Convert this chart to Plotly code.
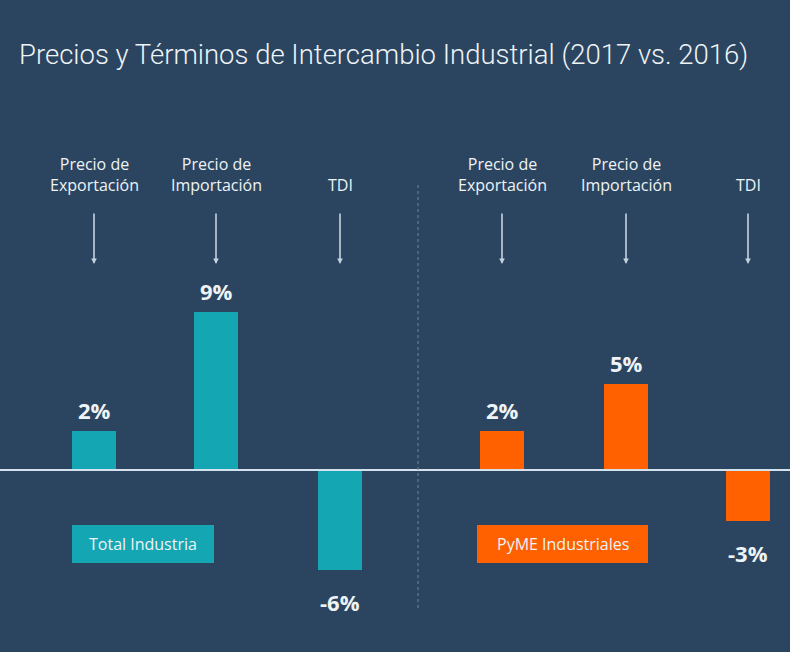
import plotly.graph_objects as go

# ---- data ----
groups = ["Total Industria", "PyME Industriales"]
categories = ["Precio de<br>Exportación", "Precio de<br>Importación", "TDI"]
total_industria = [2.2, 9.0, -5.7]
pyme_industriales = [2.2, 4.9, -2.9]
title_text = "Precios y Términos de Intercambio Industrial (2017 vs. 2016)"

# ---- style / layout ----
W, H = 790, 652
BG = "#2b4560"
TEAL = "#14a6b3"
ORANGE = "#ff6000"
TXT = "#eef3f6"
ARROW = "#c5d3df"
group_x = [[94, 216, 340], [502, 626, 748]]
bar_w = 44
px_per_unit = 17.6
zero_px = 470
y_top = zero_px / px_per_unit
y_bot = -(H - zero_px) / px_per_unit

fig = go.Figure()
series = [total_industria, pyme_industriales]
colors = [TEAL, ORANGE]
for g, (vals, col) in enumerate(zip(series, colors)):
    fig.add_trace(go.Bar(
        x=group_x[g], y=vals, width=bar_w, marker=dict(color=col, line=dict(width=0)),
        name=groups[g], showlegend=False, hoverinfo="skip"))

annotations = []
# value labels
for g, vals in enumerate(series):
    for xv, v in zip(group_x[g], vals):
        pos = v >= 0
        annotations.append(dict(
            x=xv, y=v, xref="x", yref="y", text=f"<b>{round(v):d}%</b>",
            showarrow=False, yanchor="bottom" if pos else "top",
            yshift=4 if pos else -15,
            font=dict(family="Open Sans", size=22, color=TXT)))
# category labels + arrows
for g in range(2):
    for xv, cat in zip(group_x[g], categories):
        annotations.append(dict(
            x=xv, y=1 - 198 / H, xref="x", yref="paper", text=cat,
            showarrow=False, yanchor="bottom", align="center",
            font=dict(family="Open Sans", size=16, color=TXT)))
        annotations.append(dict(
            x=xv, y=1 - 264 / H, xref="x", yref="paper", text="",
            showarrow=True, ax=0, ay=-52, axref="pixel", ayref="pixel",
            arrowhead=2, arrowsize=0.7, arrowwidth=1.6, arrowcolor=ARROW))
# group labels (boxes)
box_x = [(72, 214), (477, 648)]
shapes = []
for g in range(2):
    x0, x1 = box_x[g]
    shapes.append(dict(type="rect", xref="x", yref="paper", x0=x0, x1=x1,
                       y0=1 - 563 / H, y1=1 - 525 / H,
                       fillcolor=colors[g], line=dict(width=0)))
    annotations.append(dict(
        x=(x0 + x1) / 2, y=1 - 544 / H, xref="x", yref="paper", text=groups[g],
        showarrow=False, xanchor="center", yanchor="middle",
        font=dict(family="Open Sans", size=16, color=TXT)))
# title
annotations.append(dict(
    x=17, y=1 - 55 / H, xref="x", yref="paper", text=title_text,
    showarrow=False, xanchor="left", yanchor="middle",
    font=dict(family="Roboto", size=27.5, color=TXT, weight=300)))

shapes += [
    dict(type="line", xref="paper", yref="y", x0=0, x1=1, y0=0, y1=0,
         line=dict(color="#d3e2ec", width=2), layer="above"),
    dict(type="line", xref="x", yref="paper", x0=418, x1=418,
         y0=1 - 185 / H, y1=1 - 610 / H,
         line=dict(color="#6f8599", width=1, dash="dot")),
]

fig.update_layout(
    width=W, height=H, margin=dict(l=0, r=0, t=0, b=0),
    paper_bgcolor=BG, plot_bgcolor=BG,
    xaxis=dict(range=[0, W], visible=False, fixedrange=True),
    yaxis=dict(range=[y_bot, y_top], visible=False, fixedrange=True),
    annotations=annotations, shapes=shapes, bargap=0,
)
fig.write_html("out.html", config=dict(displayModeBar=False))
